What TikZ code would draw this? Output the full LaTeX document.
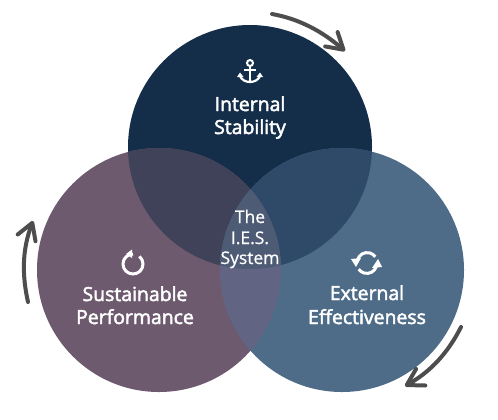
\documentclass[tikz,border=0pt]{standalone}
\usepackage{fontspec}
\setmainfont{Open Sans}[FakeBold=2.4]
\newfontfamily\plainfont{Open Sans}[FakeBold=0.8]
\definecolor{topfill}{HTML}{142E4A}
\definecolor{leftfill}{HTML}{6E5A6E}
\definecolor{rightfill}{HTML}{4E6C88}
\definecolor{topleft}{HTML}{3F4259}
\definecolor{topright}{HTML}{2F4A68}
\definecolor{leftright}{HTML}{616583}
\definecolor{middle}{HTML}{4D5B75}
\definecolor{sweep}{HTML}{4D4D4D}
\usetikzlibrary{arrows.meta}
\begin{document}
\begin{tikzpicture}[x=1bp,y=-1bp,>={Straight Barb[round,length=16bp,width=19bp]},
  every node/.style={text=white,anchor=base,inner sep=0pt,font=\fontsize{19.5}{20}\selectfont},
  centertext/.style={font=\plainfont\fontsize{17.5}{18}\selectfont},
  disc/.style={circle,anchor=center,inner sep=0pt,minimum size=244bp},
  sweeparrow/.style={->,sweep,line width=4bp,line cap=round},
  icon/.style={white,line width=3bp}]
\useasboundingbox (0,0) rectangle (498,419);
\node[disc,fill=topfill] (T) at (250,147) {};
\node[disc,fill=leftfill] (L) at (159,270) {};
\node[disc,fill=rightfill] (R) at (342,270) {};
% overlaps
\begin{scope}
\clip (250,147) circle (122);
\fill[topleft] (159,270) circle (122);
\fill[topright] (342,270) circle (122);
\end{scope}
\begin{scope}
\clip (159,270) circle (122);
\fill[leftright] (342,270) circle (122);
\clip (342,270) circle (122);
\fill[middle] (250,147) circle (122);
\end{scope}
% icons
\draw[icon,line width=2bp] (250,63) circle (3);
\draw[icon,line width=2.2bp] (250,66) -- (250,82);
\draw[icon,line width=2.2bp] (244,70) -- (256,70);
\draw[icon,line width=2.2bp] (240,76) .. controls (241.5,80) and (246,82) .. (250,82) .. controls (254,82) and (258.5,80) .. (260,76);
\fill[white] (237,77) -- (240,72.5) -- (243.5,77) -- cycle;
\fill[white] (263,77) -- (260,72.5) -- (256.5,77) -- cycle;
\draw[icon] (133,254) arc (-90:-410:10);
\fill[white] (126,254) -- (132,249.5) -- (132,258) -- cycle;
\draw[icon] (357.5,260) arc (195:325:10);
\draw[icon] (376.5,266) arc (15:145:10);
\fill[white] (351,259) -- (361,258) -- (356,267) -- cycle;
\fill[white] (382,267) -- (372,268) -- (378,259) -- cycle;
% labels
\node (internal) at (250,111) {Internal};
\node (stability) at (250,134) {Stability};
\node (sustainable) at (135,301) {Sustainable};
\node (performance) at (135,324) {Performance};
\node (external) at (367,300) {External};
\node (effectiveness) at (367,324) {Effectiveness};
\node[centertext] (the) at (250,223) {The};
\node[centertext] (ies) at (250,244) {I.E.S.};
\node[centertext] (system) at (250,264) {System};
% arrows round the outside
\coordinate (a1) at (272,14);
\coordinate (a2) at (345,51);
\coordinate (b1) at (461,327);
\coordinate (b2) at (405,386);
\coordinate (c1) at (28,302);
\coordinate (c2) at (33,221);
\draw[sweeparrow] (a1) .. controls (300,19) and (323,32) .. (a2);
\draw[sweeparrow] (b1) .. controls (448,353) and (430,372) .. (b2);
\draw[sweeparrow] (c1) .. controls (22,275) and (22,250) .. (c2);
\end{tikzpicture}
\end{document}
